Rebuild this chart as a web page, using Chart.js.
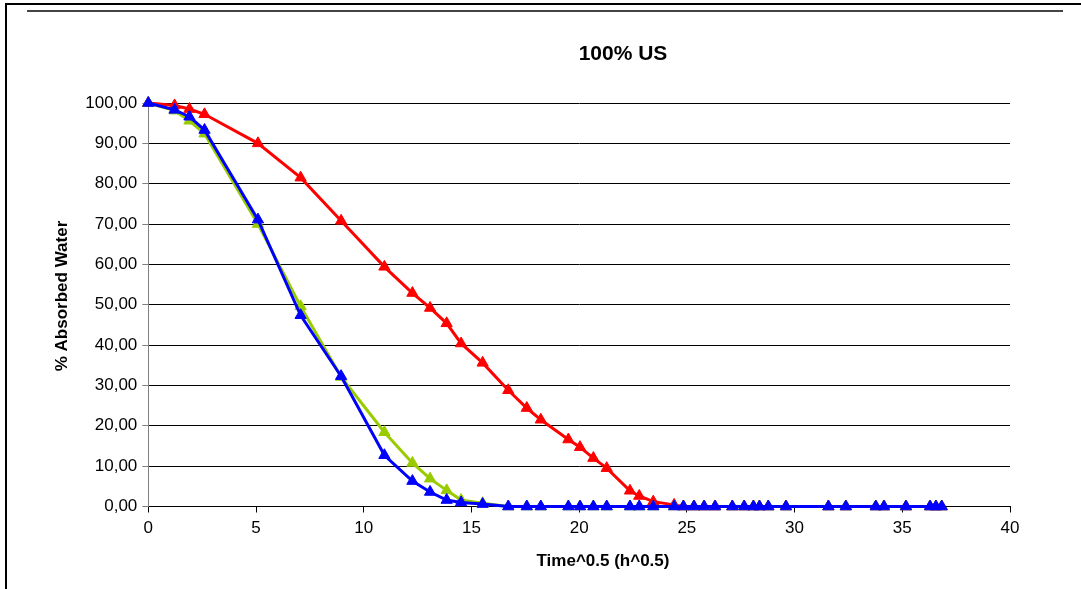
<!DOCTYPE html>
<html><head><meta charset="utf-8">
<script src="https://cdn.jsdelivr.net/npm/chart.js@4.4.1/dist/chart.umd.min.js"></script>
<style>
html,body{margin:0;padding:0;background:#fff;width:1081px;height:589px;overflow:hidden;}
#wrap{position:absolute;left:0;top:0;width:1081px;height:589px;}
.ln{position:absolute;}
</style></head><body>
<div id="wrap"><canvas id="c" width="1081" height="589"></canvas></div>
<div class="ln" style="left:5px;top:3px;width:1076px;height:2px;background:#000"></div>
<div class="ln" style="left:5px;top:3px;width:2px;height:586px;background:#000"></div>
<div class="ln" style="left:27px;top:10px;width:1036px;height:2px;background:#444"></div>
<script>
const chartTitle = '100% US';
const xAxisTitle = 'Time^0.5 (h^0.5)';
const yAxisTitle = '% Absorbed Water';

const xValues = [0, 1.22, 1.91, 2.61, 5.09, 7.07, 8.95, 10.96, 12.26, 13.08, 13.85, 14.52, 15.52, 16.71, 17.57, 18.22, 19.5, 20.04, 20.66, 21.28, 22.36, 22.79, 23.44, 24.41, 24.84, 25.33, 25.8, 26.31, 27.11, 27.66, 28.09, 28.37, 28.78, 29.6, 31.57, 32.38, 33.77, 34.15, 35.17, 36.29, 36.56, 36.83];

const redValues = [100, 99.4, 98.5, 97.2, 90.0, 81.5, 70.8, 59.4, 52.9, 49.2, 45.4, 40.4, 35.6, 28.8, 24.4, 21.5, 16.6, 14.7, 12.0, 9.5, 3.9, 2.6, 1.2, 0.4, 0, 0, 0, 0, 0, 0, 0, 0, 0, 0, 0, 0, 0, 0, 0, 0, 0, 0];
const greenValues = [100, 98.1, 95.6, 92.4, 70.0, 49.6, 32.1, 18.4, 10.8, 6.9, 4.0, 1.6, 0.8, 0, 0, 0, 0, 0, 0, 0, 0, 0, 0, 0, 0, 0, 0, 0, 0, 0, 0, 0, 0, 0, 0, 0, 0, 0, 0, 0, 0, 0];
const blueValues = [100, 98.3, 96.6, 93.3, 71.1, 47.4, 32.3, 12.7, 6.3, 3.6, 1.6, 1.0, 0.6, 0, 0, 0, 0, 0, 0, 0, 0, 0, 0, 0, 0, 0, 0, 0, 0, 0, 0, 0, 0, 0, 0, 0, 0, 0, 0, 0, 0, 0];

const xTicks = [0, 5, 10, 15, 20, 25, 30, 35, 40];
const yTicks = [0, 10, 20, 30, 40, 50, 60, 70, 80, 90, 100];

const toPts = vals => vals.map((v, i) => ({x: xValues[i], y: v}));

const FONT = '"Liberation Sans", Arial, sans-serif';

const titlePlugin = {
  id: 'titles',
  afterDraw(chart) {
    const ctx = chart.ctx;
    ctx.save();
    ctx.fillStyle = '#000';
    ctx.textAlign = 'center';
    ctx.textBaseline = 'middle';
    ctx.font = 'bold 21px ' + FONT;
    ctx.fillText(chartTitle, 623, 54);
    ctx.font = 'bold 17px ' + FONT;
    ctx.fillText(xAxisTitle, 603, 561);
    ctx.translate(62, 296);
    ctx.rotate(-Math.PI / 2);
    ctx.fillText(yAxisTitle, 0, 0);
    ctx.restore();
  }
};

function ds(label, vals, color, w) {
  return {
    label, data: toPts(vals),
    borderColor: color, backgroundColor: color,
    borderWidth: w, pointStyle: 'triangle', pointRadius: 6.5,
    pointBorderWidth: 1, pointBackgroundColor: color, pointBorderColor: color,
    showLine: true, tension: 0, clip: false
  };
}

new Chart(document.getElementById('c'), {
  type: 'scatter',
  data: {
    datasets: [
      ds('Blue', blueValues, '#0000FF', 3),
      ds('Green', greenValues, '#99CC00', 3),
      ds('Red', redValues, '#FF0000', 3)
    ]
  },
  options: {
    responsive: false,
    animation: false,
    devicePixelRatio: 1,
    layout: {padding: {left: 0, right: 71, top: 103, bottom: 0}},
    plugins: {legend: {display: false}, tooltip: {enabled: false}, title: {display: false}},
    scales: {
      x: {
        type: 'linear', min: 0, max: 40,
        afterFit(s) { s.height = 82.5; },
        afterBuildTicks(s) { s.ticks = xTicks.map(v => ({value: v})); },
        ticks: {color: '#000', font: {family: FONT, size: 17}, padding: 6, maxRotation: 0},
        grid: {drawOnChartArea: false, drawTicks: true, tickLength: 6, tickColor: '#000'},
        border: {color: '#000', width: 1}
      },
      y: {
        type: 'linear', min: 0, max: 100,
        afterFit(s) { s.width = 148.3; },
        afterBuildTicks(s) { s.ticks = yTicks.map(v => ({value: v})); },
        ticks: {color: '#000', font: {family: FONT, size: 17}, padding: 5,
          callback: v => v.toFixed(2).replace('.', ',')},
        grid: {color: '#000', lineWidth: 1, drawTicks: true, tickLength: 6, tickColor: '#808080'},
        border: {color: '#808080', width: 1}
      }
    }
  },
  plugins: [titlePlugin]
});
</script>
</body></html>
